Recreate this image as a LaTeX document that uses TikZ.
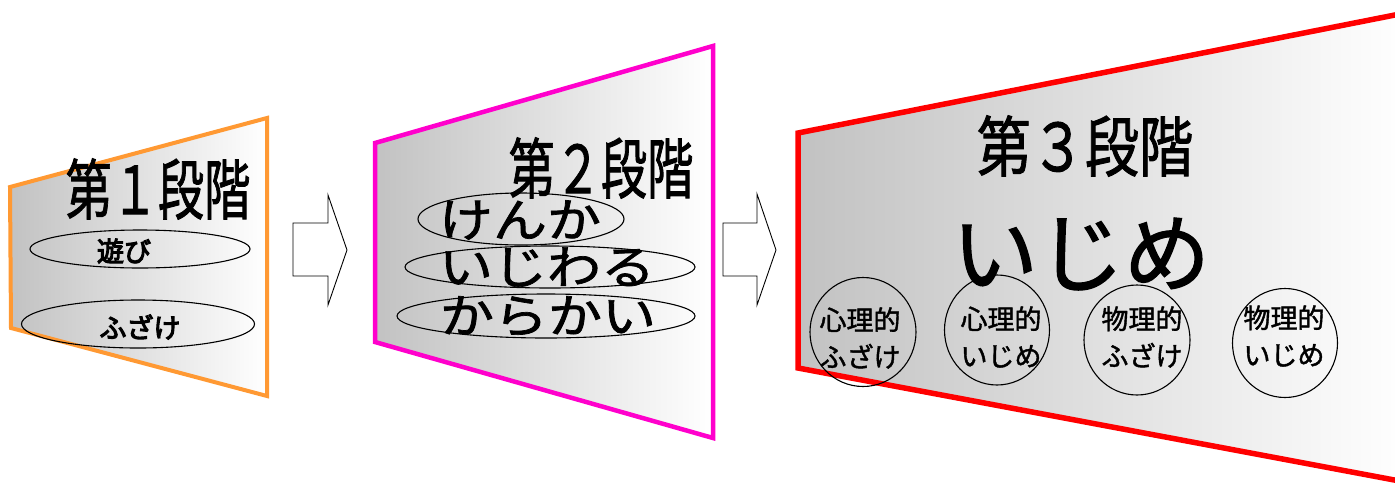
\documentclass[tikz,border=0pt]{standalone}
\usepackage{fontspec}
\newfontfamily\jp[FakeBold=1.5]{Noto Sans CJK JP}
\newfontfamily\jpb[FakeBold=4]{Noto Sans CJK JP}
\usetikzlibrary{shapes.geometric}
\definecolor{orangeL}{HTML}{FF9933}
\definecolor{magL}{HTML}{FF00CC}
\definecolor{redL}{HTML}{FF0000}
\tikzset{
  panel/.style={left color=black!24, right color=white, line join=miter},
  ell/.style={ellipse, draw=black, line width=1.1pt, inner sep=0pt},
  ttl/.style={inner sep=0pt, font=\jp\fontsize{66}{70}\selectfont},
  big/.style={inner sep=0pt, font=\jp\fontsize{54}{58}\selectfont},
  small/.style={inner sep=0pt, font=\jpb\fontsize{27}{30}\selectfont},
  ctext/.style={inner sep=0pt, align=center, font=\jp\fontsize{27}{37}\selectfont},
  blockarrow/.style={draw=black, fill=white, line width=0.9pt, line join=miter}
}
\begin{document}
\begin{tikzpicture}[x=1pt,y=-1pt]
\useasboundingbox (0,0) rectangle (1395,483);
\clip (0,0) rectangle (1395,483);
% panel 1
\coordinate (p1a) at (10,187);
\coordinate (p1b) at (267,118);
\coordinate (p1c) at (267,396);
\coordinate (p1d) at (11,328);
\draw[panel, draw=orangeL, line width=4pt] (p1a) -- (p1b) -- (p1c) -- (p1d) -- cycle;
% panel 2
\coordinate (p2a) at (375,143);
\coordinate (p2b) at (713,46);
\coordinate (p2c) at (713,438);
\coordinate (p2d) at (375,342);
\draw[panel, draw=magL, line width=4.5pt] (p2a) -- (p2b) -- (p2c) -- (p2d) -- cycle;
% panel 3
\coordinate (p3a) at (798,133);
\coordinate (p3b) at (1405,13);
\coordinate (p3c) at (1405,482);
\coordinate (p3d) at (798,368);
\draw[panel, draw=redL, line width=5.5pt] (p3a) -- (p3b) -- (p3c) -- (p3d) -- cycle;
% arrows
\draw[blockarrow] (293,223) -- (328,223) -- (328,195) -- (347,250) -- (328,305) -- (328,276) -- (293,276) -- cycle;
\draw[blockarrow] (723,223) -- (757,223) -- (757,194) -- (776,250) -- (757,305) -- (757,276) -- (723,276) -- cycle;
% panel 1 content
\node[ttl] (t1) at (158,189) {\scalebox{0.7}[1]{第１段階}};
\node[ell, minimum width=220, minimum height=38] (e11) at (140,249) {};
\node[small] (l11) at (124,251) {遊び};
\node[ell, minimum width=233, minimum height=48] (e12) at (138,324) {};
\node[small] (l12) at (140,327) {ふざけ};
% panel 2 content
\node[ttl] (t2) at (601,168) {\scalebox{0.7}[1]{第２段階}};
\node[ell, minimum width=206, minimum height=52] (e21) at (521,219) {};
\node[ell, minimum width=290, minimum height=42] (e22) at (550,267) {};
\node[ell, minimum width=298, minimum height=44] (e23) at (546,316) {};
\node[big] (l21) at (520,220) {\scalebox{1}[0.86]{けんか}};
\node[big] (l22) at (547,267) {\scalebox{1}[0.86]{いじわる}};
\node[big] (l23) at (548,316) {\scalebox{1}[0.86]{からかい}};
% panel 3 content
\node[ttl] (t3) at (1085,146) {\scalebox{0.82}[1]{第３段階}};
\node[inner sep=0pt, font=\jp\fontsize{86}{90}\selectfont] (l3) at (1081,254) {いじめ};
\node[ell, minimum width=106, minimum height=109] (c1) at (863,332) {};
\node[ell, minimum width=105, minimum height=110] (c2) at (997,330) {};
\node[ell, minimum width=106, minimum height=110] (c3) at (1137,340) {};
\node[ell, minimum width=105, minimum height=109] (c4) at (1285,343) {};
\node[ctext] (ct1) at (860,338) {心理的\\ふざけ};
\node[ctext] (ct2) at (1001,337) {心理的\\いじめ};
\node[ctext] (ct3) at (1142,337) {物理的\\ふざけ};
\node[ctext] (ct4) at (1284,336) {物理的\\いじめ};
\end{tikzpicture}
\end{document}
